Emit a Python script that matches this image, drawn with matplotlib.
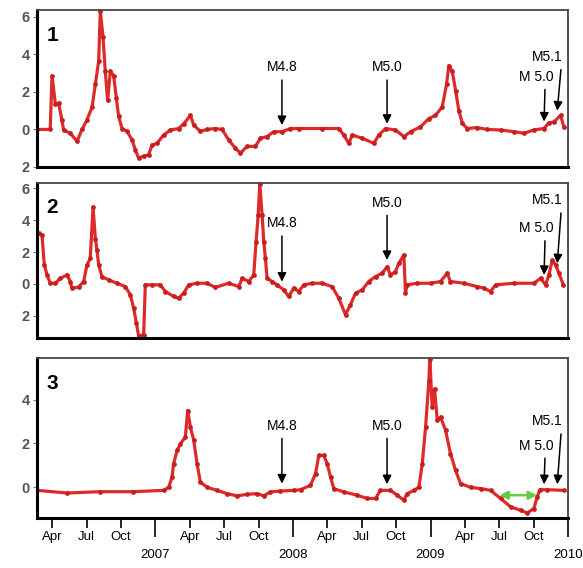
import matplotlib.pyplot as plt
import numpy as np

plt.rcParams['font.family'] = ['Liberation Sans', 'DejaVu Sans']

# time in decimal years
t1 = [2006.142, 2006.236, 2006.249, 2006.273, 2006.297, 2006.321, 2006.333, 2006.382,
      2006.431, 2006.467, 2006.503, 2006.540, 2006.564, 2006.588, 2006.600, 2006.620,
      2006.636, 2006.653, 2006.673, 2006.697, 2006.716, 2006.733, 2006.758, 2006.794,
      2006.831, 2006.855, 2006.879, 2006.915, 2006.951, 2006.976, 2007.012, 2007.060,
      2007.109, 2007.169, 2007.206, 2007.255, 2007.279, 2007.327, 2007.376, 2007.436,
      2007.485, 2007.533, 2007.582, 2007.618, 2007.667, 2007.727, 2007.764, 2007.812,
      2007.860, 2007.921, 2007.982, 2008.042, 2008.212, 2008.333, 2008.369, 2008.406,
      2008.431, 2008.503, 2008.588, 2008.624, 2008.673, 2008.745, 2008.806, 2008.855,
      2008.927, 2008.988, 2009.036, 2009.085, 2009.116, 2009.133, 2009.158, 2009.182,
      2009.206, 2009.231, 2009.267, 2009.340, 2009.412, 2009.509, 2009.606, 2009.679,
      2009.751, 2009.824, 2009.860, 2009.897, 2009.945, 2009.969]
v1 = [0.0, 0.0, 2.86, 1.37, 1.4, 0.5, -0.03, -0.2,
      -0.63, 0.0, 0.5, 1.2, 2.4, 3.65, 6.3, 4.9,
      3.1, 1.55, 3.1, 2.86, 1.7, 0.7, 0.05, -0.1,
      -0.56, -1.1, -1.53, -1.42, -1.35, -0.83, -0.74, -0.3,
      -0.03, 0.05, 0.3, 0.75, 0.23, -0.1, 0.0, 0.05,
      0.0, -0.56, -1.0, -1.26, -0.9, -0.9, -0.47, -0.38,
      -0.12, -0.12, 0.05, 0.05, 0.05, 0.05, -0.3, -0.74,
      -0.3, -0.47, -0.74, -0.3, 0.05, -0.03, -0.38, -0.12,
      0.14, 0.58, 0.75, 1.2, 2.4, 3.4, 3.1, 2.07,
      1.0, 0.32, 0.05, 0.1, 0.0, -0.03, -0.12, -0.2,
      -0.03, 0.05, 0.35, 0.4, 0.75, 0.14]

t2 = [2006.151, 2006.176, 2006.193, 2006.213, 2006.236, 2006.273, 2006.309, 2006.358,
      2006.382, 2006.394, 2006.442, 2006.479, 2006.503, 2006.527, 2006.547, 2006.564,
      2006.576, 2006.588, 2006.612, 2006.660, 2006.721, 2006.782, 2006.818, 2006.842,
      2006.862, 2006.879, 2006.915, 2006.927, 2006.976, 2007.036, 2007.073, 2007.133,
      2007.169, 2007.206, 2007.242, 2007.303, 2007.376, 2007.436, 2007.533, 2007.606,
      2007.631, 2007.679, 2007.715, 2007.732, 2007.747, 2007.759, 2007.776, 2007.788,
      2007.800, 2007.812, 2007.849, 2007.885, 2007.933, 2007.969, 2008.006, 2008.042,
      2008.079, 2008.140, 2008.212, 2008.285, 2008.333, 2008.382, 2008.418, 2008.455,
      2008.503, 2008.551, 2008.600, 2008.648, 2008.685, 2008.709, 2008.745, 2008.769,
      2008.806, 2008.818, 2008.830, 2008.903, 2009.000, 2009.073, 2009.121, 2009.145,
      2009.242, 2009.340, 2009.388, 2009.436, 2009.473, 2009.606, 2009.751, 2009.800,
      2009.836, 2009.860, 2009.885, 2009.909, 2009.933, 2009.965]
v2 = [3.17, 3.06, 1.19, 0.56, 0.04, 0.04, 0.35, 0.56,
      0.15, -0.27, -0.2, 0.15, 1.19, 1.6, 4.83, 2.85,
      2.1, 1.19, 0.46, 0.25, 0.04, -0.17, -0.69, -1.52,
      -2.46, -3.29, -3.19, -0.06, -0.06, -0.06, -0.48, -0.79,
      -0.9, -0.58, -0.06, 0.04, 0.04, -0.22, 0.04, -0.17,
      0.35, 0.15, 0.56, 2.65, 4.3, 6.3, 4.3, 2.65,
      1.6, 0.35, 0.15, -0.06, -0.38, -0.79, -0.27, -0.48,
      -0.06, 0.04, 0.04, -0.17, -0.9, -1.94, -1.31, -0.58,
      -0.38, 0.15, 0.46, 0.67, 1.08, 0.56, 0.77, 1.29,
      1.81, -0.58, -0.06, 0.04, 0.04, 0.15, 0.67, 0.15,
      0.04, -0.17, -0.27, -0.48, -0.06, 0.04, 0.04, 0.35,
      -0.06, 0.56, 1.5, 1.19, 0.67, -0.06]

t3 = [2006.142, 2006.358, 2006.600, 2006.840, 2007.060, 2007.097, 2007.121, 2007.133,
      2007.158, 2007.182, 2007.218, 2007.235, 2007.255, 2007.279, 2007.303, 2007.327,
      2007.376, 2007.449, 2007.521, 2007.594, 2007.667, 2007.740, 2007.788, 2007.836,
      2007.909, 2008.006, 2008.055, 2008.127, 2008.164, 2008.188, 2008.224, 2008.249,
      2008.273, 2008.297, 2008.369, 2008.467, 2008.540, 2008.600, 2008.636, 2008.709,
      2008.758, 2008.806, 2008.830, 2008.879, 2008.915, 2008.940, 2008.964, 2008.988,
      2008.995, 2009.012, 2009.029, 2009.049, 2009.073, 2009.109, 2009.145, 2009.182,
      2009.218, 2009.291, 2009.364, 2009.436, 2009.509, 2009.582, 2009.655, 2009.703,
      2009.751, 2009.775, 2009.795, 2009.849, 2009.969]
v3 = [-0.14, -0.26, -0.2, -0.2, -0.14, 0.0, 0.47, 1.08,
      1.68, 1.98, 2.29, 3.5, 2.74, 2.14, 1.08, 0.24,
      0.0, -0.14, -0.29, -0.39, -0.32, -0.29, -0.39, -0.21,
      -0.17, -0.14, -0.11, 0.09, 0.62, 1.45, 1.45, 1.08,
      0.47, -0.06, -0.21, -0.36, -0.51, -0.51, -0.14, -0.14,
      -0.36, -0.59, -0.29, -0.14, 0.0, 1.08, 2.74, 4.86,
      5.85, 3.65, 4.49, 3.05, 3.2, 2.6, 1.53, 0.77,
      0.17, 0.0, -0.06, -0.14, -0.51, -0.89, -1.05, -1.17,
      -0.97, -0.44, -0.11, -0.11, -0.14]

# earthquakes marked with arrows
quake_labels = ['M4.8', 'M5.0', 'M 5.0', 'M5.1']
quake_times = [2007.92, 2008.684, 2009.825, 2009.921]
# per panel: arrow tip height and label height
tips = [[0.23, 0.3, 0.42, 1.0], [0.14, 1.5, 0.56, 1.29], [0.17, 0.14, 0.14, 0.14]]
label_y = [[3.3, 3.3, 2.8, 3.85], [3.8, 5.1, 3.5, 5.25], [2.8, 2.8, 1.9, 3.0]]

# green span in panel 3
span = [2009.50, 2009.775]
span_y = -0.36

series = [(t1, v1), (t2, v2), (t3, v3)]
ylims = [(-2.0, 6.35), (-3.4, 6.35), (-1.4, 5.9)]
yticks = [[-2, 0, 2, 4, 6], [-2, 0, 2, 4, 6], [0, 2, 4]]
ytick_labels = [['2', '0', '2', '4', '6'], ['2', '0', '2', '4', '6'], ['0', '2', '4']]

years = [2007, 2008, 2009, 2010]
months = [y + m for y in [2006, 2007, 2008, 2009] for m in [0.25, 0.5, 0.75]]
month_labels = ['Apr', 'Jul', 'Oct'] * 4

fig = plt.figure(figsize=(5.83, 5.68), dpi=100)
boxes = [[0.0635, 0.706, 0.911, 0.276],
         [0.0635, 0.405, 0.911, 0.273],
         [0.0635, 0.088, 0.911, 0.282]]
red = '#dd2a2a'

for i, (t, v) in enumerate(series):
    ax = fig.add_axes(boxes[i])
    ax.plot(t, v, color=red, lw=2.3, marker='o', ms=2.4, mfc='#c81e1e', mec='#c81e1e')
    ax.set_xlim(2006.14, 2010.0)
    ax.set_ylim(*ylims[i])
    ax.set_yticks(yticks[i])
    ax.set_yticklabels(ytick_labels[i], fontsize=10.5, color='#555555', fontweight='bold')
    ax.tick_params(axis='y', length=3, color='#777777', pad=2)
    for side in ['left', 'bottom']:
        ax.spines[side].set_linewidth(2.2)
        ax.spines[side].set_color('black')
    for side in ['top', 'right']:
        ax.spines[side].set_linewidth(1.3)
        ax.spines[side].set_color('#444444')
    ax.text(0.018, 0.9, str(i + 1), transform=ax.transAxes, fontsize=15,
            fontweight='bold', ha='left', va='top')

    for j, lab in enumerate(quake_labels):
        ax.annotate(lab, xy=(quake_times[j], tips[i][j]),
                    xytext=(quake_times[j] - (0.055 if j == 2 else 0.0) - (0.07 if j == 3 else 0.0),
                            label_y[i][j]),
                    ha='center', va='center', fontsize=10,
                    arrowprops=dict(arrowstyle='-|>', color='black', lw=1.1,
                                    mutation_scale=13, shrinkA=2, shrinkB=0,
                                    relpos=(0.5 + (0.25 if j == 2 else 0.0) + (0.45 if j == 3 else 0.0), 0.0)))

    if i == 2:
        ax.annotate('', xy=(span[0], span_y), xytext=(span[1], span_y),
                    arrowprops=dict(arrowstyle='<|-|>', color='#66cc44', lw=1.8,
                                    mutation_scale=12, shrinkA=0, shrinkB=0))
        ax.set_xticks(months)
        ax.set_xticklabels(month_labels, fontsize=9.5)
        ax.set_xticks(years, minor=True)
        ax.set_xticklabels([str(y) for y in years], minor=True, fontsize=9.5)
        ax.tick_params(axis='x', which='major', length=7, width=1.2, pad=2)
        ax.tick_params(axis='x', which='minor', length=14, width=1.2, pad=8)
    else:
        ax.set_xticks([])

fig.savefig('out.png', dpi=100)
